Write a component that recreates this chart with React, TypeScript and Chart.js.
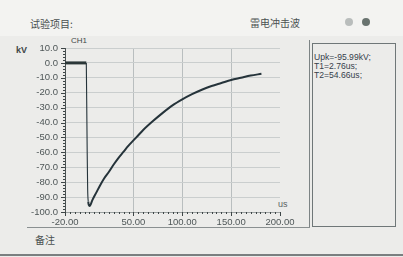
import React, { useEffect, useRef } from "react";
import { Chart, registerables } from "chart.js";

Chart.register(...registerables);

// Time (us) and voltage (kV)
const baseTime = [-20, 1.8];
const baseVolt = [0, 0];
const waveTime = [1.8, 2.2, 2.7, 3.2, 3.8, 4.5, 5.2, 8, 12, 16, 20, 25, 30, 35, 40, 45, 50, 55, 60, 70, 80, 90, 100, 110, 120, 130, 140, 150, 160, 170, 181];
const waveVolt = [0, -25, -60, -85, -93, -95.5, -96, -92, -87, -82, -77.5, -73, -68, -63.5, -59.5, -55.5, -52, -48.5, -45, -39, -33.5, -28.5, -24.5, -21, -18, -15.5, -13.5, -11.5, -10, -8.5, -7.3];
const xTickValues = [-20, 50, 100, 150, 200];
const xGridValues = [50, 100, 150];
const infoLines = ["Upk=-95.99kV;", "T1=2.76us;", "T2=54.66us;"];

const minorTicks = {
  id: "minorTicks",
  afterDraw(chart: any) {
    const { ctx, scales, chartArea } = chart;
    const x = scales.x;
    const y = scales.y;
    ctx.save();
    ctx.strokeStyle = "#3d4546";
    ctx.lineWidth = 1;
    ctx.beginPath();
    for (let t = -20; t <= 200; t += 5) {
      const px = Math.round(x.getPixelForValue(t)) + 0.5;
      const major = xTickValues.includes(t);
      ctx.moveTo(px, chartArea.bottom);
      ctx.lineTo(px, chartArea.bottom + (major ? 4 : 2));
    }
    for (let v = -100; v <= 10; v += 2) {
      const py = Math.round(y.getPixelForValue(v)) + 0.5;
      const major = v % 10 === 0;
      ctx.moveTo(chartArea.left - (major ? 4 : 2), py);
      ctx.lineTo(chartArea.left, py);
    }
    ctx.stroke();
    ctx.restore();
  },
};

export default function App() {
  const ref = useRef<HTMLCanvasElement | null>(null);
  useEffect(() => {
    document.body.style.margin = "0";
    const chart = new Chart(ref.current as HTMLCanvasElement, {
      type: "line",
      data: {
        datasets: [
          {
            data: baseTime.map((t, i) => ({ x: t, y: baseVolt[i] })),
            borderColor: "#2b3738",
            borderWidth: 3,
            pointRadius: 0,
          },
          {
            data: waveTime.map((t, i) => ({ x: t, y: waveVolt[i] })),
            borderColor: "#25333a",
            borderWidth: 2,
            pointRadius: 0,
            cubicInterpolationMode: "monotone",
            segment: {
              borderWidth: (c: any) => (c.p0.parsed.x < 3.5 ? 1.1 : 2),
            },
          },
        ],
      },
      options: {
        animation: false,
        responsive: false,
        devicePixelRatio: 1,
        layout: { padding: { left: 0, top: 48, right: 123, bottom: 0 } },
        plugins: { legend: { display: false }, tooltip: { enabled: false } },
        scales: {
          x: {
            type: "linear",
            min: -20,
            max: 200,
            afterBuildTicks: (s: any) => {
              s.ticks = xTickValues.map((v) => ({ value: v }));
            },
            afterFit: (s: any) => {
              s.height = 45;
            },
            grid: {
              color: (c: any) => (c.tick && xGridValues.includes(c.tick.value) ? "#b9bebf" : "rgba(0,0,0,0)"),
              drawTicks: false,
            },
            border: { display: true, color: "#9aa0a0" },
            ticks: {
              autoSkip: false,
              maxRotation: 0,
              padding: 5,
              color: "#4e5657",
              font: { family: "Liberation Sans", size: 9.5 },
              callback: (v: any) => Number(v).toFixed(2),
            },
          },
          y: {
            min: -100,
            max: 10,
            afterFit: (s: any) => {
              s.width = 65;
            },
            grid: { color: "#cacece", drawTicks: false },
            border: { display: true, color: "#4a5253" },
            ticks: {
              stepSize: 10,
              padding: 7,
              color: "#4e5657",
              font: { family: "Liberation Sans", size: 9.5 },
              callback: (v: any) => Number(v).toFixed(1),
            },
          },
        },
      },
      plugins: [minorTicks],
    });
    return () => chart.destroy();
  }, []);

  const cjk = "'Noto Sans CJK SC', sans-serif";
  const abs = (o: React.CSSProperties): React.CSSProperties => ({ position: "absolute", ...o });

  return (
    <div style={{ position: "relative", width: 403, height: 257, background: "#ececea", overflow: "hidden" }}>
      <div style={abs({ left: 0, top: 0, width: 403, height: 36, background: "#f3f3f1" })} />
      <div style={abs({ left: 30, top: 16, fontFamily: cjk, fontSize: 10, color: "#4a5050" })}>试验项目:</div>
      <div style={abs({ left: 250, top: 15, fontFamily: cjk, fontSize: 10, color: "#4a5050" })}>雷电冲击波</div>
      <div style={abs({ left: 345, top: 18, width: 8, height: 8, borderRadius: 4, background: "#b9bdbc" })} />
      <div style={abs({ left: 362, top: 18, width: 8, height: 8, borderRadius: 4, background: "#69736f" })} />
      <div style={abs({ left: 16, top: 45, fontFamily: "Liberation Sans", fontSize: 9, fontWeight: "bold", color: "#3f4748" })}>kV</div>
      <div style={abs({ left: 71, top: 36, fontFamily: "Liberation Sans", fontSize: 8, color: "#3f4748" })}>CH1</div>
      <div style={abs({ left: 278, top: 199, fontFamily: "Liberation Sans", fontSize: 9, color: "#5a6263" })}>us</div>
      <div style={abs({ left: 309, top: 40, width: 1, height: 187, background: "#7d8485" })} />
      <div style={abs({ left: 312, top: 43, width: 82, height: 182, border: "1px solid #6f7778" })} />
      <div style={abs({ left: 314, top: 53, fontFamily: "Liberation Sans", fontSize: 8.6, lineHeight: "9px", color: "#36404a" })}>
        {infoLines.map((l) => (
          <div key={l}>{l}</div>
        ))}
      </div>
      <div style={abs({ left: 27, top: 227, width: 283, height: 1, background: "#8a9091" })} />
      <div style={abs({ left: 35, top: 232, fontFamily: cjk, fontSize: 10, color: "#4a5050" })}>备注</div>
      <div style={abs({ left: 0, top: 254, width: 403, height: 2, background: "#7a7f80" })} />
      <canvas ref={ref} width={403} height={257} style={abs({ left: 0, top: 0 })} />
    </div>
  );
}
